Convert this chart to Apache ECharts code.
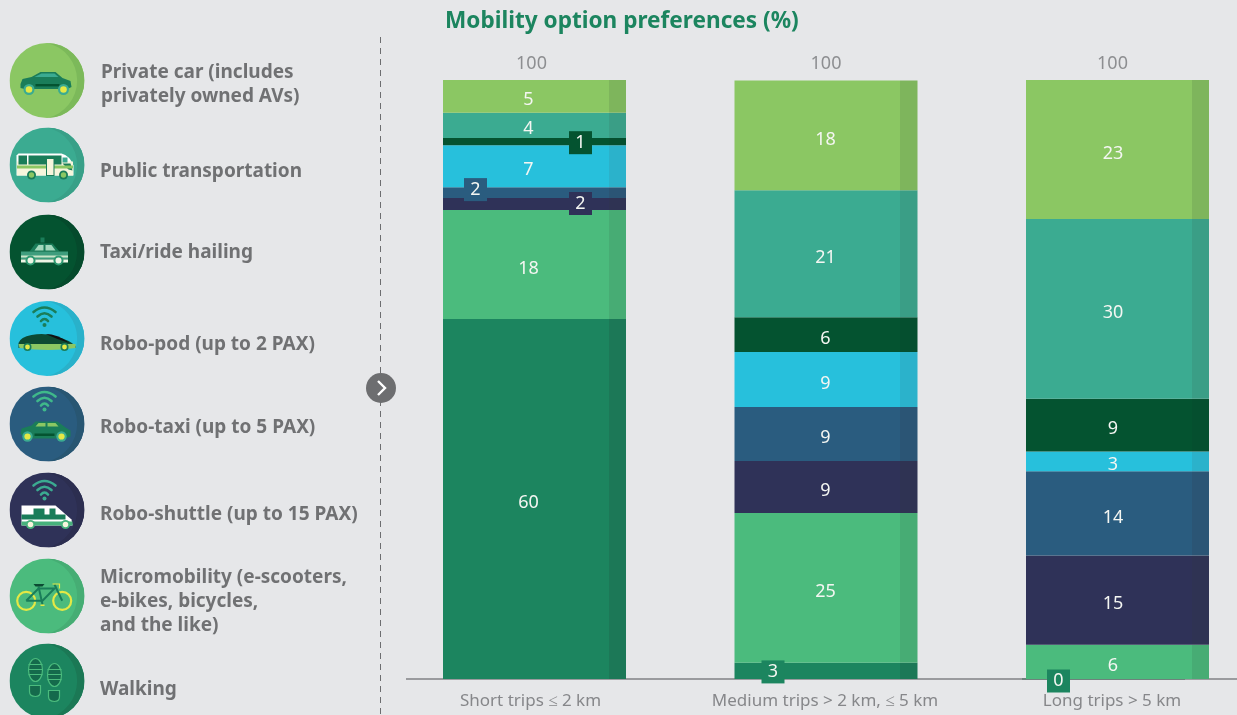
<!DOCTYPE html>
<html>
<head>
<meta charset="utf-8">
<title>Mobility option preferences</title>
<script src="https://cdn.jsdelivr.net/npm/echarts@6/dist/echarts.min.js"></script>
<style>
  html, body { margin: 0; padding: 0; background: #e6e7e9; overflow: hidden; }
  /* the last band of the category axis runs past the window edge */
  #chart { width: 1264px; height: 715px; }
</style>
</head>
<body>
<div id="chart"></div>
<script>
const categories = ['Short trips ≤ 2 km', 'Medium trips > 2 km, ≤ 5 km', 'Long trips > 5 km'];
const totals = [100, 100, 100];

// heights, labels are these rounded
const privateCar = [5.45, 18.3, 23.2];
const publicTransport = [4.25, 21.2, 30];
const taxi = [1.2, 5.8, 8.8];
const roboPod = [7, 9.2, 3.3];
const roboTaxi = [1.8, 9, 14.1];
const roboShuttle = [2, 8.7, 14.9];
const micromobility = [18.2, 25, 5.7];
const walking = [60.1, 2.7, 0];

const legendLabels = [
  'Private car (includes\nprivately owned AVs)',
  'Public transportation',
  'Taxi/ride hailing',
  'Robo-pod (up to 2 PAX)',
  'Robo-taxi (up to 5 PAX)',
  'Robo-shuttle (up to 15 PAX)',
  'Micromobility (e-scooters,\ne-bikes, bicycles,\nand the like)',
  'Walking'
];

const DARK = '#1a7d59', TEAL = '#3bab91', LIME = '#8bc763', YEL = '#e4e845', CREAM = '#f6f5dc', DEEP = '#045330';

function wheel(x, y, r, ring, hub) {
  return `<circle cx="${x}" cy="${y}" r="${r}" fill="${ring}"/><circle cx="${x}" cy="${y}" r="${r * 0.6}" fill="${hub}"/>`;
}
function wifi(x, y, c) {
  return `<g fill="none" stroke="${c}" stroke-width="2.6" stroke-linecap="round">
    <path d="M${x - 11} ${y - 8}Q${x} ${y - 17} ${x + 11} ${y - 8}"/>
    <path d="M${x - 7} ${y - 3.5}Q${x} ${y - 10} ${x + 7} ${y - 3.5}"/>
    <path d="M${x - 3.5} ${y + 1}Q${x} ${y - 3} ${x + 3.5} ${y + 1}"/></g>
    <circle cx="${x}" cy="${y + 5}" r="2" fill="${c}"/>`;
}
function shoe(x, y, c) {
  let bars = '';
  [6, 11, 16].forEach(d => { bars += `<path d="M${x - 7} ${y + d}H${x + 7}" stroke="${c}" stroke-width="1.2"/>`; });
  return `<g fill="#156a4c" stroke="${c}" stroke-width="1.2">
    <ellipse cx="${x}" cy="${y + 11.5}" rx="7" ry="11.5"/>
    <path d="M${x - 6} ${y + 27}H${x + 5}V${y + 33}Q${x + 5} ${y + 38} ${x} ${y + 38}Q${x - 6} ${y + 38} ${x - 6} ${y + 33}Z"/></g>${bars}`;
}

// icon artwork in a 75x75 box
const iconArt = [
  `<path d="M11 41L13 36L22 34L31 29H46L53 35L61 38L62 44L58 46H15L11 45Z" fill="${DARK}"/>
   <path d="M25 34L32 30.5H45L49 34Z" fill="${TEAL}"/><rect x="26" y="41" width="24" height="2.4" fill="${DEEP}"/>
   ${wheel(19.5, 46.5, 5.5, TEAL, YEL)}${wheel(54, 46.5, 5.5, TEAL, YEL)}`,
  `<path d="M9 26H52Q60 28 64 38V48H7V28Z" fill="#fff"/><rect x="7.5" y="34" width="56" height="14" fill="${CREAM}"/>
   <rect x="9" y="28" width="8.5" height="9" fill="${DARK}"/><rect x="19" y="28" width="33" height="9" fill="${DARK}"/>
   <rect x="53" y="30" width="5" height="5" fill="${TEAL}"/><path d="M53 36H61L63 43L59 42Z" fill="${DARK}"/>
   <rect x="7.5" y="38" width="56" height="3" fill="${LIME}"/>
   <rect x="37" y="31" width="7.5" height="17" fill="${CREAM}" stroke="${DARK}" stroke-width="1"/>
   ${wheel(22, 47.5, 4.5, DARK, LIME)}${wheel(54, 47.5, 4.5, DARK, LIME)}`,
  `<rect x="31" y="23" width="4" height="5" fill="${DARK}"/><path d="M20 37L26 29H43L50 37Z" fill="${DARK}"/>
   <path d="M25 36L29 30.5H34V36ZM36 36V30.5H42L46 36Z" fill="#a3d8bc"/>
   <rect x="11.5" y="37" width="47" height="8" fill="#3f9d7d"/><rect x="11.5" y="41" width="47" height="2" fill="#c9e5c8"/>
   <rect x="11.5" y="45" width="47" height="3" fill="#eef5e5"/>
   ${wheel(21, 46, 5, '#2f9a72', '#eef5e5')}${wheel(49, 46, 5, '#2f9a72', '#eef5e5')}`,
  `${wifi(35, 19, DARK)}<path d="M9 42Q11 36 22 34Q36 31 48 36Q60 39 66 45V47H9Z" fill="#0c4a33"/>
   <path d="M36 33Q48 33 60 42L48 38Z" fill="#111"/><path d="M9 43H66V47Q40 51 10 47Z" fill="${LIME}"/>
   ${wheel(18, 46, 4, DARK, YEL)}${wheel(55, 46, 4, DARK, YEL)}`,
  `${wifi(35, 18, '#3fb98a')}<path d="M11 47L12 42L22 39L26 35H48L56 41L61 44V50L55 52H15Z" fill="${DARK}"/>
   <path d="M26 40L29 36.5H36V40ZM38 40V36.5H46L49 40Z" fill="${LIME}"/><rect x="25" y="47" width="20" height="2.5" fill="${DEEP}"/>
   ${wheel(18, 50, 5.2, TEAL, YEL)}${wheel(52, 50, 5.2, TEAL, YEL)}`,
  `${wifi(35, 21, TEAL)}<path d="M12 33H46L62 47L63 53H12Z" fill="#fff"/>
   <path d="M12 42H56V47H12Z" fill="${DARK}"/><rect x="24" y="36" width="11" height="9" fill="${DARK}"/><rect x="40" y="36" width="6" height="9" fill="${DARK}"/>
   <rect x="12" y="49" width="51" height="4" fill="#46b27c"/>
   ${wheel(21, 52, 4.6, '#46b27c', CREAM)}${wheel(56, 52, 4.6, '#46b27c', CREAM)}`,
  `<circle cx="16.7" cy="42.3" r="9" fill="none" stroke="${YEL}" stroke-width="2.2"/><circle cx="52.7" cy="42.3" r="9" fill="none" stroke="${YEL}" stroke-width="2.2"/>
   <g fill="none" stroke="${DARK}" stroke-width="2"><path d="M16.7 42.3L29 30H45L33 42.3H16.7"/><path d="M29 28L33 46"/><path d="M45 26L52.7 42.3"/></g>
   <path d="M24 25.5H35L33 28H26Z" fill="#0c4a33"/><path d="M43 25.5H50V30" fill="none" stroke="${YEL}" stroke-width="1.2"/><rect x="31" y="46" width="4" height="1.5" fill="${YEL}"/>`,
  `${shoe(26, 15, '#4bbb7d')}${shoe(45, 20, '#4bbb7d')}`
];
const iconColors = ['#8bc763', '#3bab91', '#045330', '#27c0dc', '#2a5c7f', '#2f3258', '#4bbb7d', '#1c855f'];
const iconShades = ['#7cb95a', '#38a088', '#054a2c', '#29b1ca', '#285672', '#2c2e50', '#46ad74', '#1b7855'];

function iconUri(i) {
  const svg = `<svg xmlns="http://www.w3.org/2000/svg" width="75" height="75" viewBox="0 0 75 75">
    <circle cx="37.5" cy="37.5" r="37.5" fill="${iconColors[i]}"/>
    <path d="M37.5 0A37.5 37.5 0 0 1 37.5 75A38.4 38.4 0 0 0 37.5 0Z" fill="${iconShades[i]}"/>${iconArt[i]}</svg>`;
  return 'data:image/svg+xml;charset=utf-8,' + encodeURIComponent(svg);
}

const chart = echarts.init(document.getElementById('chart'));

// stack from the ground up, so reversed against the legend order
const stack = [
  { name: 'Walking', data: walking, color: '#1c855f', strip: '#1c7857' },
  { name: 'Micromobility', data: micromobility, color: '#4bbb7d', strip: '#47ac74' },
  { name: 'Robo-shuttle', data: roboShuttle, color: '#2f3258', strip: '#2f3353' },
  { name: 'Robo-taxi', data: roboTaxi, color: '#2a5c7f', strip: '#2b5575' },
  { name: 'Robo-pod', data: roboPod, color: '#27c0dc', strip: '#2bb2cb' },
  { name: 'Taxi/ride hailing', data: taxi, color: '#045330', strip: '#054f2f' },
  { name: 'Public transportation', data: publicTransport, color: '#3bab91', strip: '#3a9e86' },
  { name: 'Private car', data: privateCar, color: '#8bc763', strip: '#7eb55c' }
];

// the labels too thin to sit in their band get a small box pushed to the side
const boxed = {
  'Taxi/ride hailing|0': [46, 1],
  'Robo-taxi|0': [-59, -3],
  'Robo-shuttle|0': [46, -0.5],
  'Walking|1': [-53, 1],
  'Walking|2': [-59, 2]
};
const labelShift = [-6, -0.5, -4.5];
const STRIP_AT = 1 - 17 / 183;

const series = stack.map(s => ({
  name: s.name,
  type: 'bar',
  stack: 'total',
  barWidth: 183,
  silent: true,
  itemStyle: {
    color: {
      type: 'linear', x: 0, y: 0, x2: 1, y2: 0,
      colorStops: [
        { offset: 0, color: s.color }, { offset: STRIP_AT, color: s.color },
        { offset: STRIP_AT, color: s.strip }, { offset: 1, color: s.strip }
      ]
    }
  },
  data: s.data.map((v, i) => {
    const box = boxed[s.name + '|' + i];
    return {
      value: v,
      label: box
        ? { offset: box, backgroundColor: s.color, width: 23, height: 23, lineHeight: 23, align: 'center', verticalAlign: 'middle' }
        : { offset: [labelShift[i], 4] }
    };
  }),
  label: {
    show: true,
    position: 'inside',
    color: '#f4f6f2',
    fontFamily: 'Noto Sans',
    fontSize: 18,
    formatter: p => String(Math.round(p.value))
  }
}));

// invisible points on top of the stacks, only there to carry the totals
series.push({
  name: 'Total',
  type: 'scatter',
  symbolSize: 0,
  silent: true,
  data: totals.map((v, i) => ({ value: v, label: { offset: [[-3, 0, -5][i], 0] } })),
  label: { show: true, position: 'top', distance: 7, color: '#77787a', fontFamily: 'Noto Sans', fontSize: 18 }
});

const legendY = [85, 172, 253, 345, 428, 515, 602, 690];
const iconY = [80.5, 165, 252, 338.5, 424, 510, 596, 681];
const graphic = [];
legendLabels.forEach((text, i) => {
  graphic.push({
    type: 'image',
    style: { image: iconUri(i), x: 9.5, y: iconY[i] - 37.5, width: 75, height: 75 }
  });
  graphic.push({
    type: 'text',
    x: i === 0 ? 101 : 100,
    y: legendY[i],
    style: {
      text: text,
      fill: '#707173',
      fontFamily: 'Noto Sans',
      fontWeight: 'bold',
      fontSize: 19,
      lineHeight: 24,
      verticalAlign: 'middle'
    }
  });
});
graphic.push(
  { type: 'line', shape: { x1: 380.5, y1: 37, x2: 380.5, y2: 715 }, style: { stroke: '#6d6e70', lineWidth: 1, lineDash: [6, 5] } },
  { type: 'circle', shape: { cx: 381, cy: 388, r: 15 }, style: { fill: '#6d6e70' } },
  { type: 'polyline', shape: { points: [[378, 381], [385, 388], [378, 395]] }, style: { stroke: '#fff', lineWidth: 2.4, fill: null } },
  { type: 'line', shape: { x1: 406, y1: 679, x2: 1237, y2: 679 }, style: { stroke: '#808285', lineWidth: 1.5 } },
  { type: 'line', shape: { x1: 1022, y1: 679, x2: 1185, y2: 679 }, style: { stroke: '#5f7a70', lineWidth: 1.5 } }
);

// tick labels sit a little left of their bars
const tickPadRight = [8, 2, 11];

chart.setOption({
  animation: false,
  backgroundColor: '#e6e7e9',
  title: {
    text: 'Mobility option preferences (%)',
    left: 445,
    top: 10,
    padding: 0,
    textStyle: { color: '#1c855f', fontFamily: 'Noto Sans', fontWeight: 'bold', fontSize: 22.6 }
  },
  grid: { left: 388.75, top: 80, width: 874.5, height: 599 },
  xAxis: {
    type: 'category',
    data: categories.map((c, i) => ({ value: c, textStyle: { padding: [0, tickPadRight[i], 0, 0] } })),
    axisLine: { show: false },
    axisTick: { show: false },
    axisLabel: { interval: 0, color: '#86878a', fontFamily: 'Noto Sans', fontSize: 17, margin: 14 }
  },
  yAxis: { type: 'value', min: 0, max: 100, show: false },
  series: series,
  graphic: { elements: graphic }
});
</script>
</body>
</html>
